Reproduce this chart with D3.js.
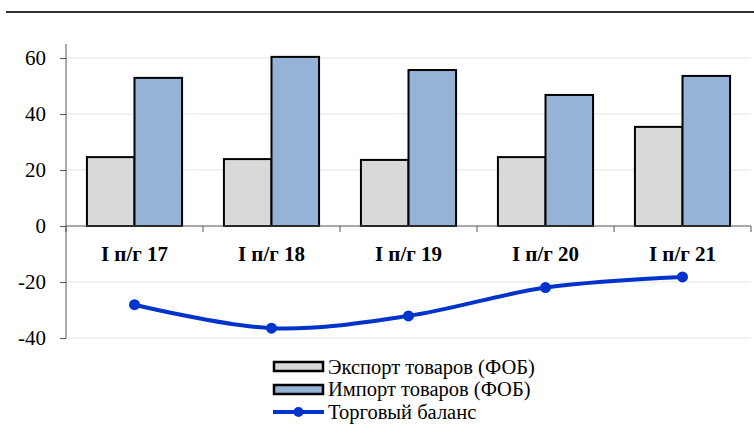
<!DOCTYPE html>
<html>
<head>
<meta charset="utf-8">
<script src="https://cdn.jsdelivr.net/npm/d3@7"></script>
<style>
body{margin:0;background:#fff;}
svg{display:block;}
</style>
</head>
<body>
<svg id="chart" width="754" height="426"></svg>
<script>
// данные
var categories = ["I п/г 17", "I п/г 18", "I п/г 19", "I п/г 20", "I п/г 21"];
var exportVals = [24.6, 23.9, 23.6, 24.6, 35.4];
var importVals = [52.9, 60.4, 55.7, 46.8, 53.6];
var balanceVals = [-28.1, -36.5, -32.1, -22.0, -18.2];
var yTicks = [-40, -20, 0, 20, 40, 60];
var seriesNames = ["Экспорт товаров (ФОБ)", "Импорт товаров (ФОБ)", "Торговый баланс"];

var FONT = "'Liberation Serif', 'Times New Roman', 'DejaVu Serif', serif";
var svg = d3.select("#chart").style("font-family", FONT);

// линия сверху
svg.append("line")
   .attr("x1", 6).attr("x2", 754)
   .attr("y1", 12).attr("y2", 12)
   .attr("stroke", "#333").attr("stroke-width", 2);

var x = d3.scaleBand().domain(categories).range([66, 751]);
var y = d3.scaleLinear().domain([-40, 65]).range([338, 44]);

//сетка
svg.append("g").selectAll("line")
   .data(yTicks.filter(function(d){ return d != 0; }))
   .enter().append("line")
   .attr("x1", 66).attr("x2", 751)
   .attr("y1", function(d){ return y(d); })
   .attr("y2", function(d){ return y(d); })
   .attr("stroke", "#e4e4e4").attr("stroke-width", 1);

// ось Y
var yAxis = svg.append("g")
   .attr("transform", "translate(66,0)")
   .call(d3.axisLeft(y).tickValues(yTicks).tickSize(6).tickPadding(14)
        .tickFormat(function(d){ return String(d); }));
yAxis.attr("font-family", null);
yAxis.select(".domain").attr("stroke", "#555").attr("d", "M0," + y(65) + "V" + y(-40));
yAxis.selectAll(".tick line").attr("stroke", "#555");
yAxis.selectAll("text").attr("font-size", 21).attr("fill", "#000")
   .style("font-family", FONT);

// столбцы
var inner = d3.scaleBand().domain([0, 1]).range([0, x.bandwidth()]).paddingOuter(0.44).paddingInner(0);
var groups = svg.append("g").selectAll("g")
   .data(categories).enter().append("g")
   .attr("transform", function(d){ return "translate(" + x(d) + ",0)"; });
groups.append("rect")
   .attr("x", inner(0)).attr("width", inner.bandwidth())
   .attr("y", function(d, i){ return y(exportVals[i]); })
   .attr("height", function(d, i){ return y(0) - y(exportVals[i]); })
   .attr("fill", "#d9d9d9").attr("stroke", "#000").attr("stroke-width", 2);
groups.append("rect")
   .attr("x", inner(1)).attr("width", inner.bandwidth())
   .attr("y", function(d, i){ return y(importVals[i]); })
   .attr("height", function(d, i){ return y(0) - y(importVals[i]); })
   .attr("fill", "#95b3d7").attr("stroke", "#000").attr("stroke-width", 2);

// ось X
var xAxis = svg.append("g").attr("transform", "translate(0," + y(0) + ")");
xAxis.append("line").attr("x1", 66).attr("x2", 751).attr("stroke", "#555").attr("stroke-width", 1);
xAxis.selectAll(".tk").data(d3.range(categories.length + 1)).enter().append("line")
   .attr("x1", function(i){ return 66 + i * x.step(); })
   .attr("x2", function(i){ return 66 + i * x.step(); })
   .attr("y1", 0).attr("y2", 6).attr("stroke", "#555");
xAxis.selectAll("text").data(categories).enter().append("text")
   .attr("x", function(d){ return x(d) + x.bandwidth() / 2; })
   .attr("y", 35)
   .attr("text-anchor", "middle")
   .style("font-family", FONT)
   .attr("font-size", 21).attr("font-weight", "bold")
   .text(function(d){ return d; });

// линия баланса
var line = d3.line()
   .x(function(d, i){ return x(categories[i]) + x.bandwidth() / 2; })
   .y(function(d){ return y(d); })
   .curve(d3.curveCatmullRom.alpha(0.5));
svg.append("path").datum(balanceVals)
   .attr("d", line).attr("fill", "none")
   .attr("stroke", "#0033cc").attr("stroke-width", 4);
svg.append("g").selectAll("circle").data(balanceVals).enter().append("circle")
   .attr("cx", function(d, i){ return x(categories[i]) + x.bandwidth() / 2; })
   .attr("cy", function(d){ return y(d); })
   .attr("r", 5.5).attr("fill", "#0033cc");

// легенда
var leg = svg.append("g").attr("transform", "translate(273,0)");
var fills = ["#d9d9d9", "#95b3d7"];
for (var i = 0; i < 2; i++) {
	leg.append("rect").attr("x", 1).attr("y", 362 + i * 23)
	   .attr("width", 49).attr("height", 9)
	   .attr("fill", fills[i]).attr("stroke", "#000").attr("stroke-width", 2.5);
}
leg.append("line").attr("x1", 0).attr("x2", 51).attr("y1", 412).attr("y2", 412)
   .attr("stroke", "#0033cc").attr("stroke-width", 4);
leg.append("circle").attr("cx", 25.5).attr("cy", 412).attr("r", 5).attr("fill", "#0033cc");
leg.selectAll("text").data(seriesNames).enter().append("text")
   .attr("x", 55).attr("y", function(d, i){ return 373.5 + i * 22.5; })
   .style("font-family", FONT)
   .attr("font-size", 20.5).attr("fill", "#000")
   .text(function(d){ return d; });
</script>
</body>
</html>
